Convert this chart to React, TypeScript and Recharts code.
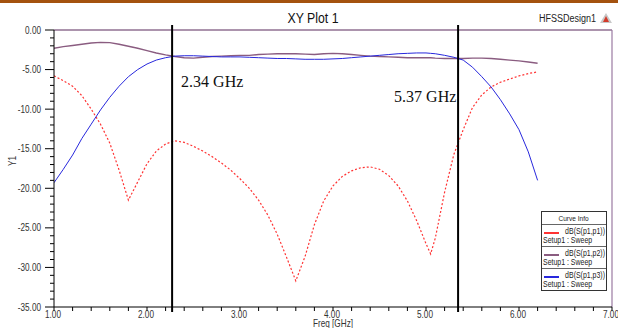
import { LineChart, Line, XAxis, YAxis, ReferenceLine } from "recharts";

const freq = [
  1.0, 1.1, 1.2, 1.3, 1.4, 1.5, 1.6, 1.7, 1.8, 1.9, 2.0, 2.1, 2.2, 2.3, 2.4, 2.5, 2.6, 2.7, 2.8, 2.9,
  3.0, 3.1, 3.2, 3.3, 3.4, 3.5, 3.6, 3.7, 3.8, 3.9, 4.0, 4.1, 4.2, 4.3, 4.4, 4.5, 4.6, 4.7, 4.8, 4.9,
  5.0, 5.05, 5.1, 5.2, 5.3, 5.4, 5.5, 5.6, 5.7, 5.8, 5.9, 6.0, 6.1, 6.2,
];

const s11 = [
  -5.8, -6.4, -7.1, -8.3, -10.0, -11.9, -14.3, -17.7, -21.5, -19.2, -16.9, -15.3, -14.4, -14.0, -14.2, -14.7, -15.3, -16.0, -16.8, -17.7,
  -18.8, -20.0, -21.5, -23.4, -25.8, -28.7, -31.7, -28.6, -24.6, -21.6, -19.7, -18.5, -17.8, -17.4, -17.3, -17.6, -18.4, -19.7, -21.6, -24.1,
  -27.0, -28.3, -26.3, -20.5, -15.7, -12.6, -9.8, -8.2, -7.2, -6.6, -6.2, -5.8, -5.5, -5.3,
];

const s12 = [
  -2.3, -2.1, -1.95, -1.8, -1.65, -1.57, -1.6, -1.8, -2.05, -2.3, -2.6, -2.9, -3.15, -3.35, -3.5, -3.55, -3.45, -3.35, -3.3, -3.25,
  -3.2, -3.2, -3.1, -3.05, -3.0, -3.0, -3.0, -3.05, -3.1, -3.0, -2.95, -3.0, -3.1, -3.2, -3.3, -3.35, -3.4, -3.45, -3.5, -3.5,
  -3.5, -3.5, -3.55, -3.6, -3.6, -3.6, -3.55, -3.55, -3.6, -3.7, -3.8, -3.9, -4.05, -4.2,
];

const s13 = [
  -19.3, -17.6, -15.8, -13.7, -11.9, -10.1, -8.5, -7.1, -5.9, -5.0, -4.3, -3.8, -3.5, -3.3, -3.25, -3.25, -3.3, -3.35, -3.4, -3.4,
  -3.4, -3.45, -3.5, -3.55, -3.6, -3.6, -3.65, -3.7, -3.7, -3.7, -3.65, -3.6, -3.5, -3.4, -3.3, -3.2, -3.1, -3.0, -2.95, -2.9,
  -2.9, -2.95, -3.0, -3.2, -3.45, -3.8, -4.7, -5.9, -7.2, -8.8, -10.6, -12.6, -15.4, -19.0,
];

const seriesNames = ["dB(S(p1,p1))", "dB(S(p1,p2))", "dB(S(p1,p3))"];
const seriesColors = ["#ff3333", "#8a5c80", "#2828dd"];
const setupName = "Setup1 : Sweep";

const markerFreqs = [2.27, 5.345];
const markerLabels = ["2.34 GHz", "5.37 GHz"];

const sans = "'Liberation Sans', Arial, sans-serif";

const rows = freq.map((f, i) => ({ f, s11: s11[i], s12: s12[i], s13: s13[i] }));

const xTicks: number[] = [];
for (let i = 0; i <= 30; i++) xTicks.push(Math.round((1 + i * 0.2) * 10) / 10);
const yTicks: number[] = [];
for (let v = 0; v >= -35; v--) yTicks.push(v);

// narrow sans text (HFSS uses Arial Narrow look)
function NText(props: any) {
  const { x, y, size, anchor, fill, children, rotate } = props;
  const tr = `translate(${x} ${y})${rotate ? ` rotate(${rotate})` : ""} scale(0.82 1)`;
  return (
    <text transform={tr} fontSize={size} textAnchor={anchor || "start"} fill={fill || "#333"} fontFamily={sans}>
      {children}
    </text>
  );
}

function XTick(props: any) {
  const { x, y, payload } = props;
  const major = Math.abs(payload.value - Math.round(payload.value)) < 1e-6;
  return (
    <g>
      <line x1={x} x2={x} y1={y} y2={y + 4} stroke="#000" />
      {major && (
        <NText x={x - 1} y={y + 11} size={10} anchor="middle">
          {payload.value.toFixed(2)}
        </NText>
      )}
    </g>
  );
}

function YTick(props: any) {
  const { x, y, payload } = props;
  const major = payload.value % 5 === 0;
  return (
    <g>
      <line x1={x - (major ? 9 : 4)} x2={x} y1={y} y2={y} stroke="#000" />
      {major && (
        <NText x={x - 13} y={y + 3.5} size={10} anchor="end">
          {payload.value === 0 ? "0.00" : payload.value.toFixed(2)}
        </NText>
      )}
    </g>
  );
}

function MarkerLine(props: any) {
  const { x1, y1, x2, y2 } = props;
  const top = Math.min(y1, y2);
  const bottom = Math.max(y1, y2);
  return <line x1={x1} x2={x2} y1={top - 5} y2={bottom + 5} stroke="#000" strokeWidth={2} />;
}

function markerLabel(i: number) {
  return (props: any) => {
    const vb = props.viewBox || {};
    const x = i === 0 ? vb.x + 9 : vb.x - 64;
    const y = i === 0 ? vb.y + 57 : vb.y + 72;
    return (
      <text x={x} y={y} fontSize={16} fontFamily="'Liberation Serif', 'Times New Roman', serif" fill="#111">
        {markerLabels[i]}
      </text>
    );
  };
}

function CurveInfo() {
  const left = 541;
  const top = 211;
  const w = 65;
  const head = 13;
  const rowH = 22;
  return (
    <g>
      <rect x={left + 0.5} y={top + 0.5} width={w} height={head + rowH * seriesNames.length} fill="#fff" stroke="#333" />
      <NText x={left + w / 2} y={top + 10} size={8} anchor="middle" fill="#222">Curve Info</NText>
      {seriesNames.map((name, i) => {
        const ry = top + head + i * rowH;
        return (
          <g key={name}>
            <line x1={left + 1} x2={left + w} y1={ry + 0.5} y2={ry + 0.5} stroke="#666" />
            <line x1={left + 3} x2={left + 18} y1={ry + 9} y2={ry + 9} stroke={seriesColors[i]} strokeWidth={2} />
            <NText x={left + w - 1} y={ry + 10} size={8.5} anchor="end" fill="#222">{name}</NText>
            <NText x={left + 2} y={ry + 19} size={8.5} fill="#222">{setupName}</NText>
          </g>
        );
      })}
    </g>
  );
}

export default function App() {
  return (
    <div style={{ position: "absolute", left: 0, top: 0, width: 618, height: 328, background: "#fff", overflow: "hidden" }}>
      <div style={{ position: "absolute", left: 0, top: 0, width: 618, height: 3, background: "#a4520f" }} />
      <LineChart width={618} height={328} data={rows} margin={{ top: 30, right: 6, bottom: 1, left: 0 }}>
        <XAxis
          dataKey="f"
          type="number"
          domain={[1, 7]}
          ticks={xTicks}
          interval={0}
          tick={XTick}
          tickLine={false}
          tickSize={0}
          tickMargin={0}
          height={20}
          axisLine={{ stroke: "#000" }}
          allowDataOverflow
        />
        <YAxis
          type="number"
          domain={[-35, 0]}
          ticks={yTicks}
          interval={0}
          tick={YTick}
          tickLine={false}
          tickSize={0}
          tickMargin={0}
          width={54}
          axisLine={{ stroke: "#000" }}
          allowDataOverflow
        />
        <ReferenceLine y={0} stroke="#5a2a5c" strokeWidth={1.2} />
        <ReferenceLine x={7} stroke="#9a7aa2" strokeWidth={1.2} />
        <Line dataKey="s11" stroke={seriesColors[0]} strokeWidth={1.2} strokeDasharray="2 2" dot={false} isAnimationActive={false} />
        <Line dataKey="s12" stroke={seriesColors[1]} strokeWidth={1.4} dot={false} isAnimationActive={false} />
        <Line dataKey="s13" stroke={seriesColors[2]} strokeWidth={1} dot={false} isAnimationActive={false} />
        {markerFreqs.map((m, i) => (
          <ReferenceLine key={m} x={m} stroke="#000" shape={MarkerLine} label={markerLabel(i)} />
        ))}
      </LineChart>
      <svg width={618} height={328} style={{ position: "absolute", left: 0, top: 0, pointerEvents: "none" }}>
        <NText x={313} y={23} size={15} anchor="middle" fill="#111">XY Plot 1</NText>
        <NText x={539} y={22} size={11} fill="#222">HFSSDesign1</NText>
        <polygon points="606,13 600,23 612,23" fill="#c8c8c8" />
        <polygon points="606,16 603,22 609,22" fill="#d23a2a" />
        <NText x={16} y={161} size={10} anchor="middle" rotate={-90}>Y1</NText>
        <NText x={333} y={327} size={10} anchor="middle">Freq [GHz]</NText>
        <CurveInfo />
      </svg>
    </div>
  );
}
